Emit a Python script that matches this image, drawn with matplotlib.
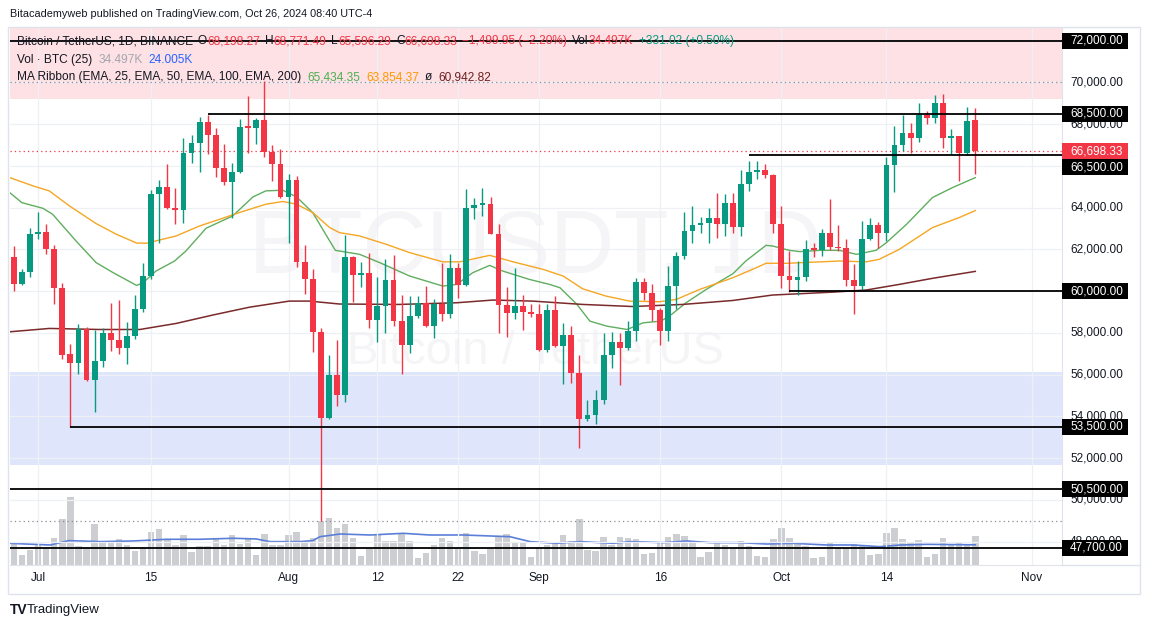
import numpy as np
import pandas as pd
import matplotlib
matplotlib.use('Agg')
import matplotlib.pyplot as plt
from matplotlib.patches import Rectangle
from matplotlib.lines import Line2D

plt.rcParams['font.family'] = ['Liberation Sans', 'DejaVu Sans']

# daily candles, BTC/USDT, Jun 28 .. Oct 25 2024
dates = pd.date_range('2024-06-28', '2024-10-25', freq='D')

opens = [61630, 60350, 60910, 62720, 62830, 62030, 60140, 56980, 56550, 58190,
         55745, 56640, 58000, 57650, 57250, 57840, 59140, 60720, 64640, 64990,
         64000, 63900, 66630, 67080, 68100, 67460, 65880, 65240, 65720, 67870,
         67830, 68190, 66670, 66100, 64510, 65310, 61400, 60590, 58060, 53920,
         55970, 55030, 61630, 60750, 60860, 58625, 59280, 60530, 58580, 57410,
         58800, 59440, 58320, 59360, 58910, 61120, 60290, 64000, 64140, 64190,
         62750, 59340, 58960, 59280, 59010, 58880, 57170, 59100, 57360, 57890,
         56080, 53890, 54080, 54800, 56960, 57570, 57250, 58080, 60430, 59920,
         59070, 58110, 60240, 61680, 62880, 63170, 63280, 63500, 63230, 64220,
         63070, 65120, 65720, 65800, 65570, 63230, 60720, 60540, 60670, 62030,
         61990, 62800, 62120, 62050, 60530, 60240, 62480, 63150, 62800, 66040,
         67000, 67580, 67350, 68420, 68310, 68990, 67320, 67410, 66590, 68198.27]
highs = [62160, 61080, 63040, 63790, 63200, 62200, 60400, 57450, 58430, 58300,
         58130, 58250, 59420, 59550, 58520, 59810, 61340, 64840, 65310, 66105,
         64960, 67350, 67480, 68315, 68440, 67820, 67030, 66140, 68230, 69350,
         68270, 70080, 67000, 66800, 65600, 65500, 62200, 61040, 58230, 56960,
         57650, 62690, 61700, 61390, 61820, 60670, 61550, 61730, 59810, 59780,
         59780, 60240, 59600, 61360, 61790, 61360, 64890, 64480, 64930, 64500,
         63200, 60190, 61120, 59810, 59360, 59360, 59360, 59760, 58480, 58330,
         56920, 54760, 55240, 58000, 58040, 58000, 58560, 60620, 60620, 60320,
         59200, 61200, 61880, 63790, 64080, 63560, 63970, 64720, 64640, 64720,
         65790, 66240, 66240, 66070, 65620, 64080, 61920, 61440, 62430, 62320,
         62960, 64400, 63150, 62510, 61280, 63360, 63480, 63290, 66400, 67910,
         68420, 68070, 68990, 68630, 69400, 69460, 67750, 67450, 68830, 68771.49]
lows = [60000, 60280, 60690, 62500, 61775, 59380, 56740, 53500, 56020, 55680,
        54210, 56360, 57120, 56990, 56500, 57720, 59000, 60600, 62320, 63920,
        63200, 63280, 66140, 65720, 66560, 65440, 65080, 63490, 65650, 66630,
        67040, 66400, 65250, 64480, 62320, 61170, 59840, 57090, 49000, 53870,
        54480, 54690, 59470, 60200, 58240, 57570, 58000, 58350, 56030, 57040,
        58700, 58280, 57760, 58550, 58720, 59680, 60250, 63470, 63600, 62720,
        58000, 57810, 58670, 58120, 58750, 57150, 57100, 57330, 55550, 55600,
        52480, 53760, 53610, 54600, 56320, 55520, 57200, 57600, 59550, 58590,
        57440, 57600, 59120, 61550, 62320, 62770, 62320, 62530, 62620, 62790,
        62620, 64800, 65360, 65400, 62800, 60160, 59950, 59810, 60470, 61630,
        61700, 61950, 61920, 60240, 58910, 60000, 62430, 62080, 62400, 64760,
        66710, 66630, 67160, 67990, 68070, 66850, 66560, 65250, 66500, 65596.29]
closes = [60350, 60910, 62720, 62830, 62030, 60140, 56950, 56550, 58190, 55745,
          56640, 58000, 57650, 57250, 57840, 59140, 60720, 64640, 64990, 64000,
          63900, 66630, 67080, 68100, 67460, 65880, 65240, 65720, 67870, 67830,
          68190, 66670, 66100, 64510, 65310, 61400, 60590, 58060, 53920, 55970,
          55030, 61630, 60750, 60860, 58625, 59280, 60530, 58580, 57410, 58800,
          59440, 58320, 59360, 58910, 61120, 60290, 64000, 64140, 64160, 62750,
          59340, 58960, 59280, 59010, 58880, 57170, 59100, 57360, 57890, 56080,
          53890, 54080, 54800, 56960, 57570, 57250, 58080, 60430, 59920, 59070,
          58110, 60240, 61680, 62880, 63170, 63280, 63500, 63230, 64220, 63070,
          65120, 65720, 65800, 65570, 63230, 60720, 60540, 60670, 62030, 61990,
          62800, 62090, 62050, 60530, 60240, 62480, 63150, 62800, 66040, 67000,
          67580, 67350, 68420, 68310, 68990, 67320, 67410, 66590, 68150, 66698.33]

# volume, thousand BTC
volumes = [25.8, 11.9, 17.9, 23.8, 19.9, 31.8, 54.8, 81.4, 22.6, 19.9,
           48.8, 27.8, 26.6, 30.6, 23.8, 16.7, 21.0, 38.9, 42.9, 29.8,
           23.8, 35.7, 15.9, 22.6, 22.6, 31.8, 23.8, 35.7, 25.0, 30.6,
           11.9, 36.9, 23.8, 23.8, 35.7, 38.9, 27.8, 31.8, 52.8, 55.6,
           43.7, 48.8, 31.8, 10.7, 19.1, 36.5, 28.6, 28.6, 37.7, 28.6,
           8.3, 14.7, 23.8, 31.8, 28.6, 21.0, 37.7, 16.7, 13.1, 19.1,
           33.7, 36.9, 27.8, 27.8, 9.1, 21.0, 23.8, 25.0, 35.7, 28.6,
           54.8, 17.9, 17.1, 33.0, 23.8, 33.0, 31.8, 30.6, 13.1, 14.7,
           27.0, 33.0, 36.9, 34.5, 26.6, 9.1, 15.9, 25.8, 23.8, 19.1,
           28.6, 22.6, 10.7, 9.1, 31.0, 43.7, 31.8, 27.0, 22.6, 8.3,
           9.1, 25.8, 19.9, 19.9, 25.0, 23.0, 11.9, 13.1, 37.7, 43.7,
           30.6, 25.8, 29.8, 9.1, 13.1, 31.8, 23.8, 25.8, 23.8, 34.497]

# volume MA (25): (day index, value)
vol_ma_x = [-0.5, 4.5, 6.8, 10.7, 14.8, 18.9, 23, 27.2, 30, 31.7, 35.4, 37, 37.9, 40.4,
            44.1, 48.2, 51.5, 55.6, 61.4, 63.9, 67.2, 70.1, 74.2, 76.3, 80.4, 83.3,
            86.2, 89.9, 93.2, 96.5, 100.6, 103.9, 107.2, 109.7, 113, 119]
vol_ma = [25.8, 23.8, 29.0, 27.8, 28.6, 30.6, 30.6, 31.8, 31.0, 27.8, 27.8, 29.0, 33.7, 36.9,
          35.7, 37.7, 35.7, 35.7, 33.7, 27.8, 25.8, 27.8, 25.8, 27.8, 26.6, 28.6,
          26.6, 26.6, 25.0, 25.8, 23.8, 23.8, 21.8, 23.8, 24.6, 24.005]

# MA ribbon lines: (day index, value)
ema25_x = [-0.5, 1, 3.6, 4.8, 7.7, 10.2, 12.3, 15.2, 16, 17.6, 19.9, 21.3, 23.8, 27.1,
           29.6, 31.2, 33.3, 35, 37, 38.6, 39.8, 42.8, 45.3, 49, 53.1, 54.8, 56.8,
           58.9, 60.5, 63.8, 66.3, 67.6, 69.7, 71.3, 73.4, 75.9, 77.9, 80.1, 81.4,
           83.2, 85.7, 89, 90.6, 93.1, 93.9, 96, 97.3, 99.7, 102.2, 104.3, 106.7,
           108, 110.5, 113.7, 116.2, 119]
ema25 = [64715, 64235, 63965, 63680, 62400, 61360, 60880, 60270, 60400, 60960, 61440,
         61920, 63010, 63600, 64510, 64800, 64830, 64510, 63755, 62720, 61950, 61760,
         61360, 60720, 60240, 60320, 60880, 61230, 60960, 60560, 60320, 60160, 59360,
         58560, 58320, 58160, 58480, 58560, 58880, 59440, 60080, 60830, 61440, 62190,
         62160, 61950, 61890, 61950, 61950, 61760, 61950, 62320, 63200, 64480, 64960,
         65434.35]
ema50_x = [-0.5, 2.4, 4.4, 6.9, 10.2, 12.7, 15.2, 16.4, 20.1, 23, 25.5, 27.9, 31.2,
           33.3, 35, 37, 39.1, 40.3, 42.8, 46.1, 49, 53.1, 55.2, 58.9, 61.8, 65.5,
           68, 70.4, 73.3, 76.2, 79.9, 82, 84.9, 89, 91.9, 93.1, 95.6, 99.3, 102.2,
           105.5, 107.1, 109.6, 113.7, 117, 119]
ema50 = [65435, 65035, 64795, 64075, 63230, 62720, 62300, 62290, 62640, 63120, 63440,
         63760, 64160, 64290, 64160, 63760, 63040, 62800, 62640, 62240, 61840, 61400,
         61400, 61710, 61400, 61040, 60720, 60110, 59760, 59520, 59490, 59600, 60080,
         60640, 61120, 61330, 61330, 61390, 61440, 61400, 61520, 62000, 63040, 63520,
         63854.37]
ema100_x = [-0.5, 4.4, 10.6, 15.6, 20.1, 24.6, 29.2, 34.1, 36.6, 40.3, 47.7, 54.8,
            59.3, 64.2, 70.4, 76.6, 82.8, 89, 93.9, 101.4, 105.5, 109.6, 113.7, 119]
ema100 = [58050, 58210, 58160, 58160, 58450, 58850, 59230, 59520, 59520, 59380, 59360,
          59440, 59570, 59520, 59360, 59260, 59360, 59550, 59810, 59950, 60050, 60320,
          60610, 60942.82]

# drawn levels: price, first day (None = from the left edge)
level_prices = [72000, 68500, 66500, 60000, 53500, 50500, 47700]
level_starts = [None, '2024-07-22', '2024-09-27', '2024-10-02', '2024-07-05', None, None]
price_ticks = list(range(48000, 70001, 2000))
last_price = 66698.33

tick_dates = ['2024-07-01', '2024-07-15', '2024-08-01', '2024-08-12', '2024-08-22',
              '2024-09-01', '2024-09-16', '2024-10-01', '2024-10-14', '2024-11-01']
tick_labels = ['Jul', '15', 'Aug', '12', '22', 'Sep', '16', 'Oct', '14', 'Nov']

UP = '#089981'
DOWN = '#f23645'
DARK = '#131722'

W, H = 1149, 628
fig = plt.figure(figsize=(W / 100, H / 100), dpi=100)


def fx(px):
    return px / W


def fy(py):
    return 1 - py / H


plot_l, plot_r, plot_t, plot_b = 10, 1061.5, 28, 565
ax = fig.add_axes([fx(plot_l), fy(plot_b), fx(plot_r - plot_l), (plot_b - plot_t) / H])
vax = ax.twinx()
vax.set_zorder(ax.get_zorder() - 1)
ax.patch.set_visible(False)
vax.patch.set_visible(False)

x = np.arange(len(dates))
xmin, xmax = -0.47, 129.67
ymin, ymax = 46880, 72600
ax.set_xlim(xmin, xmax)
ax.set_ylim(ymin, ymax)
vax.set_xlim(xmin, xmax)
vax.set_ylim(0, 639)
per_px = (ymax - ymin) / (plot_b - plot_t)

# volume pane
vax.bar(x, volumes, width=0.8, color='#cdced2', linewidth=0)
vax.plot(vol_ma_x, vol_ma, color='#5b7fd9', lw=1.2)
vax.axis('off')

# zones
ax.axhspan(69211, ymax + 500, color='#fde1e4', zorder=0.3, lw=0)
ax.axhspan(51650, 56120, color='#dfe6fc', zorder=0.3, lw=0)

# watermark
ax.text(0.4993, 0.5866, 'BTCUSDT, 1D', transform=ax.transAxes, ha='center', va='center',
        fontsize=64, color='#f5f5f7', zorder=0.4)
ax.text(0.4993, 0.3966, 'Bitcoin / TetherUS', transform=ax.transAxes, ha='center',
        va='center', fontsize=34, color='#f5f5f7', zorder=0.4)

# grid
tick_pos = (pd.to_datetime(tick_dates) - dates[0]).days.values
ax.set_xticks(tick_pos)
ax.set_yticks(price_ticks + [72000])
ax.grid(True, color='#eef0f5', lw=0.9)
ax.set_axisbelow(True)
ax.tick_params(length=0, labelleft=False, labelbottom=False)
for side in ['top', 'left']:
    ax.spines[side].set_visible(False)
for side in ['bottom', 'right']:
    ax.spines[side].set_color('#e0e3eb')

# dotted reference lines
ax.axhline(70000, color='#8a8d96', ls=(0, (1, 2.5)), lw=0.9, zorder=2)
ax.axhline(49000, color='#8a8d96', ls=(0, (1, 2.5)), lw=0.9, zorder=2)
ax.axhline(last_price, color=DOWN, ls=(0, (1, 2.5)), lw=0.9, zorder=2)

# MA ribbon
ax.plot(ema25_x, ema25, color='#5fae5f', lw=1.0, zorder=3)
ax.plot(ema50_x, ema50, color='#f5a623', lw=1.0, zorder=3)
ax.plot(ema100_x, ema100, color='#7a2a2a', lw=1.1, zorder=3)

# candles
o = np.array(opens)
c = np.array(closes)
colors = np.where(c >= o, UP, DOWN)
ax.vlines(x, lows, highs, colors=colors, lw=1.0, zorder=4)
body_lo = np.minimum(o, c)
body_h = np.maximum(np.abs(c - o), 60)
ax.bar(x, body_h, bottom=body_lo, width=0.72, color=colors, linewidth=0, zorder=5)

# horizontal levels
for p, s in zip(level_prices, level_starts):
    start = xmin if s is None else (pd.Timestamp(s) - dates[0]).days
    ax.hlines(p, start, xmax, color='black', lw=1.3, zorder=6)

# price axis
yt = ax.get_yaxis_transform()
lab_x = (1070 - plot_l) / (plot_r - plot_l)
box_x0 = (1062 - plot_l) / (plot_r - plot_l)
box_w = (1128 - 1062) / (plot_r - plot_l)
box_h = 16 * per_px
for p in price_ticks:
    ax.text(lab_x, p, f'{p:,.2f}', transform=yt, ha='left', va='center', fontsize=8.5,
            color=DARK, clip_on=False, zorder=8)

label_pos = {p: p for p in level_prices}
label_pos[66500] = last_price - box_h
for p in level_prices:
    yp = label_pos[p]
    ax.add_patch(Rectangle((box_x0, yp - box_h / 2), box_w, box_h, transform=yt,
                           fc='black', ec='none', clip_on=False, zorder=9))
    ax.text(lab_x, yp, f'{p:,.2f}', transform=yt, ha='left', va='center', fontsize=8.5,
            color='white', clip_on=False, zorder=10)
ax.add_patch(Rectangle((box_x0, last_price - box_h / 2), box_w, box_h, transform=yt,
                       fc=DOWN, ec='none', clip_on=False, zorder=9))
ax.text(lab_x, last_price, f'{last_price:,.2f}', transform=yt, ha='left', va='center',
        fontsize=8.5, color='white', clip_on=False, zorder=10)

# date axis
xt = ax.get_xaxis_transform()
for pos, lab in zip(tick_pos, tick_labels):
    ax.text(pos, -(578 - plot_b) / (plot_b - plot_t), lab, transform=xt, ha='center',
            va='center', fontsize=8.5, color=DARK, clip_on=False)

# widget frame
fig.add_artist(Rectangle((fx(8), fy(594)), fx(1140 - 8), (594 - 27) / H, fill=False,
                         ec='#e0e3eb', lw=1, transform=fig.transFigure))
fig.add_artist(Line2D([fx(plot_r), fx(1140)], [fy(plot_b), fy(plot_b)], color='#e0e3eb',
                      lw=1, transform=fig.transFigure))

# header / legend
fig.text(fx(10), fy(14), 'Bitacademyweb published on TradingView.com, Oct 26, 2024 08:40 UTC-4',
         fontsize=7.8, color=DARK, va='center', ha='left')

renderer = fig.canvas.get_renderer()


def text_row(x0, y0, parts, size=8.6):
    xpos = x0
    for s, col, gap in parts:
        t = fig.text(fx(xpos), fy(y0), s, color=col, fontsize=size, va='center', ha='left')
        xpos += t.get_window_extent(renderer=renderer).width + gap


text_row(17, 41, [('Bitcoin / TetherUS, 1D, BINANCE', DARK, 5),
                  ('O', DARK, 0), ('68,198.27', DOWN, 5),
                  ('H', DARK, 0), ('68,771.49', DOWN, 5),
                  ('L', DARK, 0), ('65,596.29', DOWN, 5),
                  ('C', DARK, 0), ('66,698.33', DOWN, 5),
                  ('\u22121,499.95 (\u22122.20%)', DOWN, 5),
                  ('Vol', DARK, 0), ('34.497K', DOWN, 6),
                  ('+331.02 (+0.50%)', UP, 0)])
text_row(17, 60, [('Vol \u00b7 BTC (25)', DARK, 6), ('34.497K', '#a3a6af', 6),
                  ('24.005K', '#2962ff', 0)])
text_row(17, 77, [('MA Ribbon (EMA, 25, EMA, 50, EMA, 100, EMA, 200)', DARK, 6),
                  ('65,434.35', '#4caf50', 6), ('63,854.37', '#ff9800', 6),
                  ('\u00f8', DARK, 6), ('60,942.82', '#6e1f1f', 0)])

# footer
fig.text(fx(10), fy(610), 'TV', fontsize=10, fontweight='heavy', color=DARK, va='center',
         ha='left')
fig.text(fx(27), fy(610), 'TradingView', fontsize=9.5, color=DARK, va='center', ha='left')

fig.savefig('out.png', dpi=100)
